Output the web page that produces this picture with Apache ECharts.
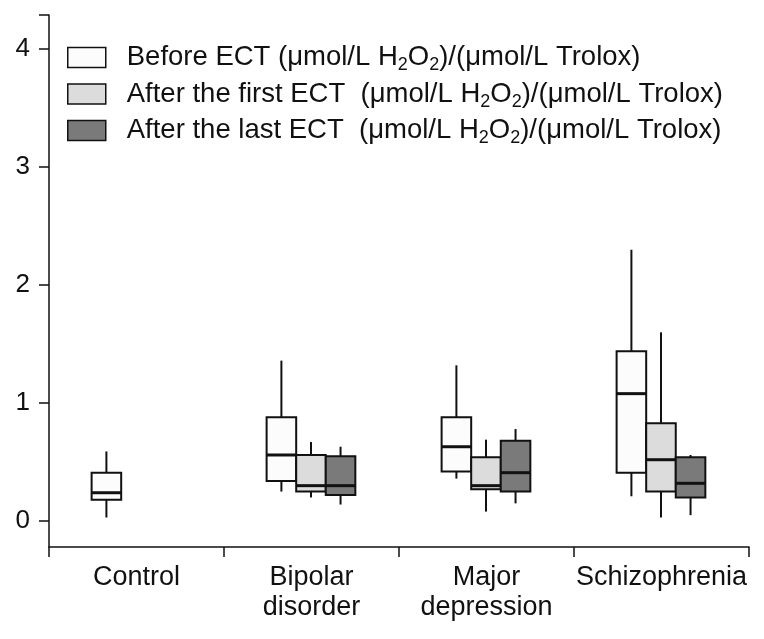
<!DOCTYPE html>
<html>
<head>
<meta charset="utf-8">
<script src="https://cdn.jsdelivr.net/npm/echarts@6/dist/echarts.min.js"></script>
<style>
html,body{margin:0;padding:0;background:#fff;}
#chart{width:764px;height:639px;}
</style>
</head>
<body>
<div id="chart"></div>
<script>
// ---- data (min, Q1, median, Q3, max) ----
var categories = ['Control', 'Bipolar\ndisorder', 'Major\ndepression', 'Schizophrenia'];
var seriesNames = ['Before ECT', 'After the first ECT', 'After the last ECT'];
var beforeECT = [
  [0.03, 0.18, 0.24, 0.41, 0.59],
  [0.25, 0.34, 0.56, 0.88, 1.36],
  [0.36, 0.42, 0.63, 0.88, 1.32],
  [0.21, 0.41, 1.08, 1.44, 2.30]
];
var afterFirst = [
  null,
  [0.20, 0.25, 0.30, 0.56, 0.67],
  [0.08, 0.27, 0.30, 0.54, 0.69],
  [0.03, 0.25, 0.52, 0.83, 1.60]
];
var afterLast = [
  null,
  [0.14, 0.22, 0.30, 0.55, 0.63],
  [0.15, 0.25, 0.41, 0.68, 0.78],
  [0.05, 0.20, 0.32, 0.54, 0.56]
];
var yTicks = [0, 1, 2, 3, 4];
var yMin = -0.22, yMax = 4.29;

var fills = ['#fcfcfc', '#dcdcdc', '#7a7a7a'];
var offsets = [-0.172, -0.003, 0.166];
var boxFrac = 0.169;
var FONT = "'Liberation Sans', Arial, Helvetica, sans-serif";

function toData(arr) {
  var out = [];
  arr.forEach(function (v, i) { if (v) out.push([i].concat(v)); });
  return out;
}

function makeRender(k) {
  return function (params, api) {
    var cat = api.value(0);
    var band = api.size([1, 0])[0];
    var cx = api.coord([cat, 0])[0] + offsets[k] * band;
    var w = boxFrac * band;
    function y(i) { return api.coord([cat, api.value(i)])[1]; }
    var ymin = y(1), yq1 = y(2), ymed = y(3), yq3 = y(4), ymax = y(5);
    var st = { stroke: '#111', lineWidth: 2 };
    return {
      type: 'group',
      children: [
        { type: 'line', shape: { x1: cx, y1: yq3, x2: cx, y2: ymax }, style: st },
        { type: 'line', shape: { x1: cx, y1: yq1, x2: cx, y2: ymin }, style: st },
        { type: 'rect', shape: { x: cx - w / 2, y: yq3, width: w, height: yq1 - yq3 },
          style: { fill: fills[k], stroke: '#111', lineWidth: 2 } },
        { type: 'line', shape: { x1: cx - w / 2, y1: ymed, x2: cx + w / 2, y2: ymed },
          style: { stroke: '#111', lineWidth: 3 } }
      ]
    };
  };
}

var allData = [beforeECT, afterFirst, afterLast];
var series = seriesNames.map(function (name, k) {
  return {
    name: name,
    type: 'custom',
    renderItem: makeRender(k),
    itemStyle: { color: fills[k], borderColor: '#111', borderWidth: 1.5 },
    encode: { x: 0, y: [1, 2, 3, 4, 5] },
    data: toData(allData[k]),
    z: 2 + k
  };
});

var chart = echarts.init(document.getElementById('chart'), null, { renderer: 'canvas' });
chart.setOption({
  backgroundColor: '#fff',
  animation: false,
  textStyle: { fontFamily: FONT, color: '#111' },
  grid: { left: 49, right: 15, top: 15, bottom: 92 },
  legend: {
    orient: 'vertical',
    left: 67,
    top: 43.5,
    padding: 0,
    icon: 'rect',
    itemWidth: 38,
    itemHeight: 20,
    itemGap: 5.5,
    data: seriesNames.map(function (n, k) {
      return { name: n, itemStyle: { color: fills[k], borderColor: '#111', borderWidth: 1.5 } };
    }),
    formatter: function (name) {
      var sep = name === seriesNames[0] ? ' ' : '  ';
      return '{g| }{a|' + name + sep + '(μmol/L H}{s|2}{a|O}{s|2}{a|)/(μmol/L Trolox)}';
    },
    textStyle: {
      fontFamily: FONT,
      color: '#111',
      rich: {
        g: { width: 16 },
        a: { fontSize: 27.5, fontFamily: FONT, color: '#111' },
        s: { fontSize: 18, fontFamily: FONT, color: '#111', padding: [16, 0, 0, 0] }
      }
    }
  },
  xAxis: {
    type: 'category',
    data: categories,
    boundaryGap: true,
    axisLine: { onZero: false, lineStyle: { color: '#111', width: 1.5 } },
    axisTick: { show: true, interval: 0, length: 10, alignWithLabel: false, lineStyle: { color: '#111', width: 1.5 } },
    axisLabel: { interval: 0, fontSize: 27, lineHeight: 30, margin: 16, color: '#111', fontFamily: FONT },
    splitLine: { show: false }
  },
  yAxis: {
    type: 'value',
    min: yMin,
    max: yMax,
    axisLine: { show: true, lineStyle: { color: '#111', width: 1.5 } },
    axisTick: { show: true, length: 10, customValues: yTicks.concat([yMax]), lineStyle: { color: '#111', width: 1.5 } },
    axisLabel: { customValues: yTicks, fontSize: 26, margin: 19, color: '#111', fontFamily: FONT },
    splitLine: { show: false }
  },
  series: series
});
</script>
</body>
</html>
